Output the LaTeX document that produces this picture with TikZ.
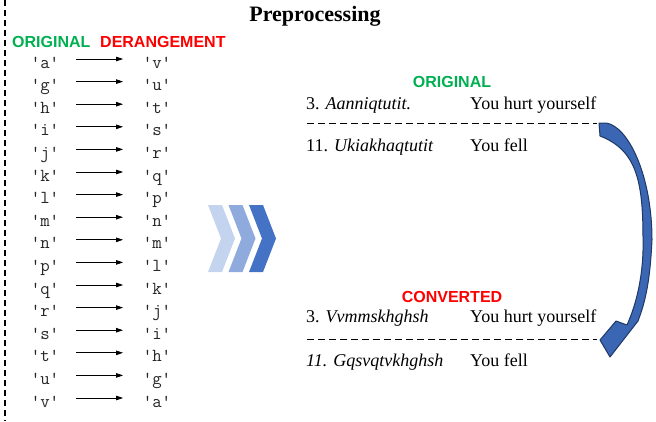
\documentclass[tikz,border=0pt]{standalone}
\usepackage{fontspec}
\setmainfont{Liberation Serif}
\setsansfont{Liberation Sans}
\usetikzlibrary{arrows.meta}
\definecolor{ogreen}{HTML}{00B050}
\definecolor{ored}{HTML}{FF0000}
\definecolor{chevA}{HTML}{C5D4EE}
\definecolor{chevB}{HTML}{8FAADC}
\definecolor{chevC}{HTML}{4472C4}
\definecolor{arrfill}{HTML}{3A66B4}
\definecolor{arrline}{HTML}{1F3864}
\tikzset{
  lbl/.style={font=\sffamily\bfseries\fontsize{16}{19}\selectfont, inner sep=0pt, anchor=base west},
  chr/.style={font=\ttfamily\fontsize{18.3}{20}\selectfont, text=black!85, inner sep=0pt, text height=18pt, text depth=0pt, anchor=base},
  mapline/.style={-{Triangle[length=7pt,width=4.5pt]}, line width=0.8pt, shorten <=16.6pt, shorten >=19.6pt},
  txt/.style={font=\fontsize{18}{20}\selectfont, inner sep=0pt, anchor=base west},
  sepline/.style={line width=1pt, dash pattern=on 7pt off 4pt}
}
\begin{document}
\begin{tikzpicture}[x=1pt,y=-1pt]
\useasboundingbox (0,0) rectangle (656,421);
% left vertical dashed line
\coordinate (vt) at (5,0);
\coordinate (vb) at (5,421);
\draw[line width=1.3pt, dash pattern=on 6pt off 4pt] (vt) -- (vb);
% title
\node[font=\bfseries\fontsize{22}{26}\selectfont, anchor=base, inner sep=0pt] (title) at (315,21) {Preprocessing};
% headings
\node[lbl, text=ogreen] (hor) at (12,47) {ORIGINAL};
\node[lbl, text=ored] (hder) at (100,47) {DERANGEMENT};
% mapping rows
\foreach \ca/\cb [count=\i] in {a/v,g/u,h/t,i/s,j/r,k/q,l/p,m/n,n/m,p/l,q/k,r/j,s/i,t/h,u/g,v/a}{
  \pgfmathsetmacro\yy{68+(\i-1)*22.6}
  \node[chr] (L\i) at (45,\yy) {'\ca'};
  \node[chr] (R\i) at (157,\yy) {'\cb'};
  \draw[mapline] (L\i) -- (R\i);
}
% chevrons
\foreach \dx/\col in {0/chevA,20.5/chevB,41/chevC}{
  \fill[\col] (208+\dx,205) -- (222+\dx,205) -- (235+\dx,238.5) -- (222+\dx,272) -- (208+\dx,272) -- (221+\dx,238.5) -- cycle;
}
% original block
\node[lbl, anchor=base, text=ogreen] (og) at (452,87) {ORIGINAL};
\node[txt] (o3) at (306,109) {3. \textit{Aanniqtutit.}};
\node[txt] (o3e) at (470,109) {You hurt yourself};
\coordinate (d1a) at (307,123.5);
\coordinate (d1b) at (597,123.5);
\draw[sepline] (d1a) -- (d1b);
\node[txt] (o11) at (306,151) {11. \textit{Ukiakhaqtutit}};
\node[txt] (o11e) at (470,151) {You fell};
% converted block
\node[lbl, anchor=base, text=ored] (cv) at (452,302) {CONVERTED};
\node[txt] (c3) at (306,322) {3. \textit{Vvmmskhghsh}};
\node[txt] (c3e) at (470,322) {You hurt yourself};
\coordinate (d2a) at (307,339.5);
\coordinate (d2b) at (597,339.5);
\draw[sepline] (d2a) -- (d2b);
\node[txt] (c11) at (306,366) {\textit{11. Gqsvqtvkhghsh}};
\node[txt] (c11e) at (470,366) {You fell};
% curved block arrow
\draw[arrline, fill=arrfill, line width=1pt, line join=round]
  (599,123) -- (606,123)
  .. controls (628,126) and (652,175) .. (652,240)
  .. controls (650,280) and (646,300) .. (638,321)
  -- (610,357) -- (600,340) -- (616,321) -- (627,325)
  .. controls (636,305) and (644,275) .. (643,238)
  .. controls (643,180) and (636,150) .. (600,136) -- cycle;
\end{tikzpicture}
\end{document}
